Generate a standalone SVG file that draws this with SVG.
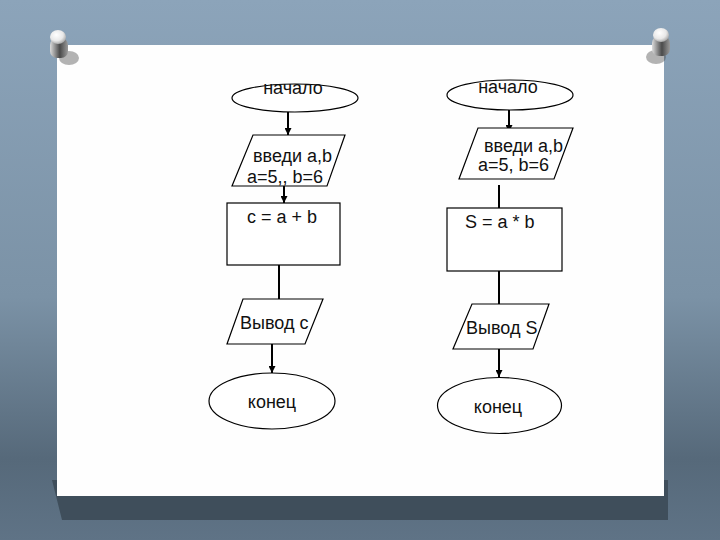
<svg xmlns="http://www.w3.org/2000/svg" width="720" height="540" viewBox="0 0 720 540">
  <defs>
    <linearGradient id="bg" x1="0" y1="0" x2="0" y2="1">
      <stop offset="0" stop-color="#8ca4ba"/>
      <stop offset="0.55" stop-color="#7b92a6"/>
      <stop offset="0.85" stop-color="#56697a"/>
      <stop offset="1" stop-color="#5f7386"/>
    </linearGradient>
    <radialGradient id="pinHead" cx="0.4" cy="0.35" r="0.7">
      <stop offset="0" stop-color="#ffffff"/>
      <stop offset="0.6" stop-color="#e8e8e8"/>
      <stop offset="1" stop-color="#a0a0a0"/>
    </radialGradient>
    <linearGradient id="pinBody" x1="0" y1="0" x2="1" y2="0">
      <stop offset="0" stop-color="#dcdcdc"/>
      <stop offset="0.55" stop-color="#4a4a4a"/>
      <stop offset="1" stop-color="#9a9a9a"/>
    </linearGradient>
    <marker id="arrow" viewBox="0 0 10 10" refX="10" refY="5" markerWidth="7" markerHeight="7" orient="auto" markerUnits="userSpaceOnUse">
      <path d="M0,0 L10,5 L0,10 z" fill="#000"/>
    </marker>
  </defs>
  <style>
    .shape { fill: #ffffff; stroke: #000000; stroke-width: 1.2; }
    .line { stroke: #000000; stroke-width: 2; fill: none; }
    .txt { font-family: "Liberation Sans", Arial, sans-serif; font-size: 18px; fill: #111111; }
  </style>

  <!-- background -->
  <rect x="0" y="0" width="720" height="540" fill="url(#bg)"/>
  <!-- card shadow -->
  <polygon points="52,480 668,480 668,520 62,520" fill="#3f4e5b"/>
  <!-- card -->
  <rect x="57" y="45" width="607" height="451" fill="#fefefe"/>

  <!-- pins -->
  <g id="pin-left">
    <ellipse cx="69" cy="58" rx="10" ry="7" fill="#444" opacity="0.4"/>
    <rect x="50" y="38" width="18" height="20" rx="7" fill="url(#pinBody)"/>
    <ellipse cx="58" cy="37" rx="8" ry="7" fill="url(#pinHead)"/>
  </g>
  <g id="pin-right">
    <ellipse cx="656" cy="57" rx="10" ry="7" fill="#444" opacity="0.4"/>
    <rect x="652" y="36" width="18" height="20" rx="7" fill="url(#pinBody)"/>
    <ellipse cx="661" cy="35" rx="8" ry="7" fill="url(#pinHead)"/>
  </g>

  <!-- connectors -->
  <g id="connectors">
    <line class="line" x1="288" y1="112" x2="288" y2="135" marker-end="url(#arrow)"/>
    <line class="line" x1="284" y1="186" x2="284" y2="203" marker-end="url(#arrow)"/>
    <line class="line" x1="279" y1="265" x2="279" y2="299"/>
    <line class="line" x1="272" y1="344" x2="272" y2="373" marker-end="url(#arrow)"/>

    <line class="line" x1="509" y1="110" x2="509" y2="132" marker-end="url(#arrow)"/>
    <line class="line" x1="499" y1="185" x2="499" y2="208"/>
    <line class="line" x1="499" y1="271" x2="499" y2="304"/>
    <line class="line" x1="499" y1="349" x2="499" y2="377" marker-end="url(#arrow)"/>
  </g>

  <!-- left column -->
  <g id="start-left">
    <ellipse class="shape" cx="295" cy="98" rx="63" ry="14"/>
    <text class="txt" x="293" y="94" text-anchor="middle">начало</text>
  </g>
  <g id="input-left">
    <polygon class="shape" points="253,135 345,135 327,186 232,186"/>
    <text class="txt" x="253" y="162">введи a,b</text>
    <text class="txt" x="247" y="183">a=5,, b=6</text>
  </g>
  <g id="process-left">
    <rect class="shape" x="227" y="203" width="113" height="62"/>
    <text class="txt" x="247" y="223">c = a + b</text>
  </g>
  <g id="output-left">
    <polygon class="shape" points="243,299 323,299 305,344 227,344"/>
    <text class="txt" x="240" y="329">Вывод с</text>
  </g>
  <g id="end-left">
    <ellipse class="shape" cx="272" cy="401" rx="63" ry="28"/>
    <text class="txt" x="272" y="408" text-anchor="middle">конец</text>
  </g>

  <!-- right column -->
  <g id="start-right">
    <ellipse class="shape" cx="510" cy="95" rx="63" ry="15"/>
    <text class="txt" x="508" y="93" text-anchor="middle">начало</text>
  </g>
  <g id="input-right">
    <polygon class="shape" points="478,128 573,128 554,179 459,179"/>
    <text class="txt" x="484" y="152">введи a,b</text>
    <text class="txt" x="478" y="171">a=5, b=6</text>
  </g>
  <g id="process-right">
    <rect class="shape" x="447" y="208" width="115" height="63"/>
    <text class="txt" x="465" y="228">S = a * b</text>
  </g>
  <g id="output-right">
    <polygon class="shape" points="472,304 549,304 533,349 453,349"/>
    <text class="txt" x="466" y="334">Вывод S</text>
  </g>
  <g id="end-right">
    <ellipse class="shape" cx="499.5" cy="405.5" rx="62" ry="28"/>
    <text class="txt" x="498" y="413" text-anchor="middle">конец</text>
  </g>
</svg>
